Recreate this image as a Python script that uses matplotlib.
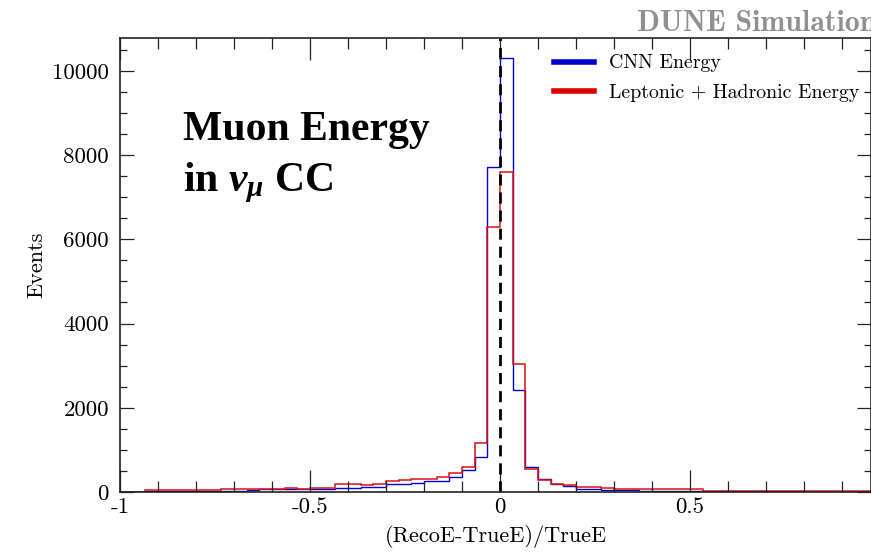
import numpy as np
import matplotlib
matplotlib.use("Agg")
import matplotlib.pyplot as plt
from matplotlib.ticker import MultipleLocator, FixedLocator, FixedFormatter

plt.rcParams["axes.unicode_minus"] = False
plt.rcParams["mathtext.fontset"] = "custom"
plt.rcParams["mathtext.rm"] = "Liberation Serif:bold"
plt.rcParams["mathtext.it"] = "Liberation Serif:bold:italic"
plt.rcParams["mathtext.bf"] = "Liberation Serif:bold"

# 60 bins from -1 to 1 (width 1/30)
bin_edges = np.linspace(-1, 1, 61)

cnn_counts = [5, 5, 25, 25, 25, 25, 25, 25, 20, 20,
              55, 65, 65, 65, 65, 60, 60, 85, 85, 110,
              130, 180, 185, 215, 250, 270, 365, 520, 820, 7720,
              10300, 2420, 595, 305, 190, 135, 70, 70, 55, 45,
              45, 20, 20, 20, 20, 20, 20, 20, 20, 20,
              20, 20, 12, 35, 10, 10, 10, 10, 10, 10]

lep_had_counts = [5, 5, 55, 55, 55, 55, 55, 55, 80, 80,
                  75, 65, 65, 105, 65, 90, 90, 180, 180, 165,
                  200, 270, 285, 300, 315, 365, 440, 600, 1160, 6300,
                  7610, 3040, 535, 290, 190, 160, 120, 120, 95, 80,
                  80, 75, 75, 75, 75, 75, 20, 20, 20, 20,
                  20, 20, 15, 35, 15, 15, 15, 15, 15, 15]

x_major = [-1, -0.5, 0, 0.5]
x_major_labels = ["-1", "-0.5", "0", "0.5"]

W, H = 871, 554
fig = plt.figure(figsize=(W / 100, H / 100), dpi=100)
ax = fig.add_axes([120 / W, 62 / H, 751 / W, 454 / H])

blue = "#0000dd"
red = "#dd1111"
ax.stairs(cnn_counts, bin_edges, color=blue, linewidth=1.0)
ax.stairs(lep_had_counts, bin_edges, color=red, linewidth=1.1)
ax.axvline(0, color="black", linestyle=(0, (4, 2.5)), linewidth=2)

ax.set_xlim(-1, 0.976)
ax.set_ylim(0, 10780)

# axis styling (ROOT look)
for s in ax.spines.values():
    s.set_linewidth(1.2)
    s.set_color("#222222")
ax.xaxis.set_major_locator(FixedLocator(x_major))
ax.xaxis.set_major_formatter(FixedFormatter(x_major_labels))
ax.xaxis.set_minor_locator(MultipleLocator(0.1))
ax.yaxis.set_major_locator(MultipleLocator(2000))
ax.yaxis.set_minor_locator(MultipleLocator(500))
ax.tick_params(which="both", direction="in", top=True, right=True, width=0.9,
               color="#222222", labelsize=16.5, labelfontfamily="cmr10")
ax.tick_params(axis="x", which="major", length=16, pad=4)
ax.tick_params(axis="x", which="minor", length=8)
ax.tick_params(axis="y", which="major", length=10, pad=8)
ax.tick_params(axis="y", which="minor", length=5)

ax.set_xlabel("(RecoE-TrueE)/TrueE", family="cmr10", fontsize=16, labelpad=6)
ax.set_ylabel("Events", family="cmr10", fontsize=16, labelpad=4)

# legend
h1, = ax.plot([], [], color="#0000cc", linewidth=4, label="CNN Energy")
h2, = ax.plot([], [], color="#dd0000", linewidth=4, label="Leptonic + Hadronic Energy")
ax.legend(handles=[h1, h2], loc="upper right", bbox_to_anchor=(1.0, 0.99),
          frameon=False, prop={"family": "cmr10", "size": 14.3},
          handlelength=2.0, handletextpad=0.75, labelspacing=0.6, borderaxespad=0.2)

# annotations
ax.text(183 / W, 1 - 140 / H, "Muon Energy", transform=fig.transFigure,
        family="Liberation Serif", fontweight="bold", fontsize=30, color="black")
ax.text(183 / W, 1 - 191 / H, r"in $\nu_{\mu}$ CC", transform=fig.transFigure,
        family="Liberation Serif", fontweight="bold", fontsize=30, color="black")

fig.text(637 / W, 1 - 31 / H, "DUNE Simulation", family="cmb10", fontsize=21.5,
         color="#909090")

fig.savefig("out.png", dpi=100)
